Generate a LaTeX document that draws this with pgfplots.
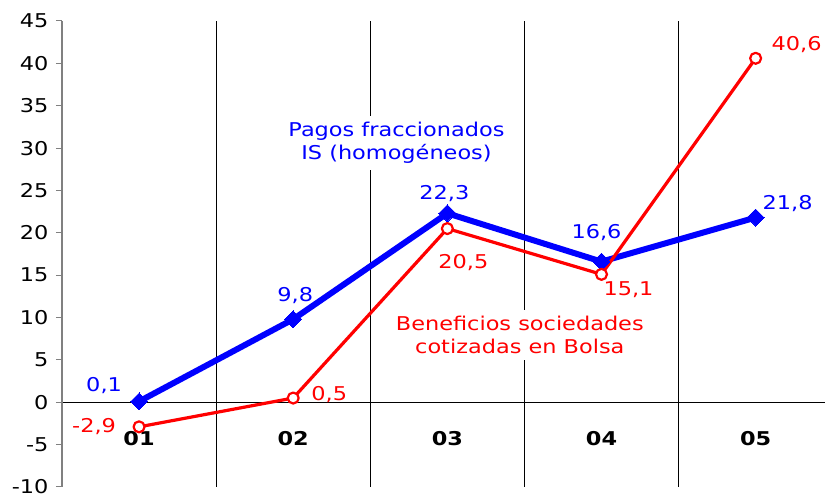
\documentclass[border=0pt]{standalone}
\usepackage{fontspec}
\setmainfont{DejaVu Sans}
\usepackage{pgfplots}
\pgfplotsset{compat=1.18}
\newcommand{\sx}[1]{\scalebox{1.18}[1]{#1}}
\definecolor{serblue}{HTML}{0000FF}
\definecolor{serred}{HTML}{FF0000}
\tikzset{lbl/.style={font=\fontsize{19}{23}\selectfont, inner sep=1pt}}

\begin{document}
\begin{tikzpicture}
\begin{axis}[
  scale only axis, width=763pt, height=466pt,
  xmin=0.5, xmax=5.45, ymin=-10, ymax=45,
  axis y line=left, axis x line=middle,
  axis line style={-},
  every inner x axis line/.append style={-},
  every outer y axis line/.append style={-},
  y axis line style={draw=gray, line width=1.2pt},
  x axis line style={black, line width=0.8pt},
  xtick={1,2,3,4,5},
  xticklabels={\textbf{\sx{01}},\textbf{\sx{02}},\textbf{\sx{03}},\textbf{\sx{04}},\textbf{\sx{05}}},
  xtick style={draw=none},
  minor xtick={1.5,2.5,3.5,4.5},
  xminorgrids,
  minor x grid style={black, line width=0.7pt},
  ytick={-10,-5,...,45},
  yticklabels={\sx{-10},\sx{-5},\sx{0},\sx{5},\sx{10},\sx{15},\sx{20},\sx{25},\sx{30},\sx{35},\sx{40},\sx{45}},
  ytick style={gray, line width=1pt},
  tick align=outside, major tick length=6pt,
  hide obscured y ticks=false, hide obscured x ticks=false,
  xticklabel style={yshift=-20pt},
  yticklabel style={xshift=-4pt},
  tick label style={font=\fontsize{19}{23}\selectfont},
  clip=false,
]
% Pagos fraccionados IS
\addplot[serblue, line width=6pt, line join=round, mark=square*, mark size=6pt,
  mark options={rotate=45, line width=0pt}] coordinates {
  (1,0.1) (2,9.8) (3,22.3) (4,16.6) (5,21.8)
};
% Beneficios sociedades cotizadas
\addplot[serred, line width=3.2pt, line join=round, mark=*, mark size=5.5pt,
  mark options={fill=white, line width=2.2pt}] coordinates {
  (1,-2.9) (2,0.5) (3,20.5) (4,15.1) (5,40.6)
};

% value labels
\node[lbl, serblue] at (axis cs:1,0.1) [xshift=-35pt, yshift=16pt] {\sx{0,1}};
\node[lbl, serblue] at (axis cs:2,9.8) [xshift=2pt, yshift=24pt] {\sx{9,8}};
\node[lbl, serblue] at (axis cs:3,22.3) [xshift=-3pt, yshift=20pt] {\sx{22,3}};
\node[lbl, serblue] at (axis cs:4,16.6) [xshift=-5pt, yshift=29pt] {\sx{16,6}};
\node[lbl, serblue] at (axis cs:5,21.8) [xshift=32pt, yshift=14pt] {\sx{21,8}};

\node[lbl, serred] at (axis cs:1,-2.9) [xshift=-45pt, yshift=0pt] {\sx{-2,9}};
\node[lbl, serred] at (axis cs:2,0.5) [xshift=36pt, yshift=3pt] {\sx{0,5}};
\node[lbl, serred] at (axis cs:3,20.5) [xshift=16pt, yshift=-34pt] {\sx{20,5}};
\node[lbl, serred] at (axis cs:4,15.1) [xshift=27pt, yshift=-15pt] {\sx{15,1}};
\node[lbl, serred] at (axis cs:5,40.6) [xshift=41pt, yshift=14pt] {\sx{40,6}};

% series names
\node[lbl, serblue, fill=white, align=center, inner sep=6pt] at (axis cs:2.67,30.6)
  {\sx{Pagos fraccionados}\\\sx{IS (homogéneos)}};
\node[lbl, serred, fill=white, align=center, inner sep=6pt] at (axis cs:3.47,7.9)
  {\sx{Beneficios sociedades}\\\sx{cotizadas en Bolsa}};
\end{axis}
\pgfresetboundingbox
\path[use as bounding box] (-62pt,-7pt) rectangle (763pt,487pt);
\end{tikzpicture}
\end{document}
